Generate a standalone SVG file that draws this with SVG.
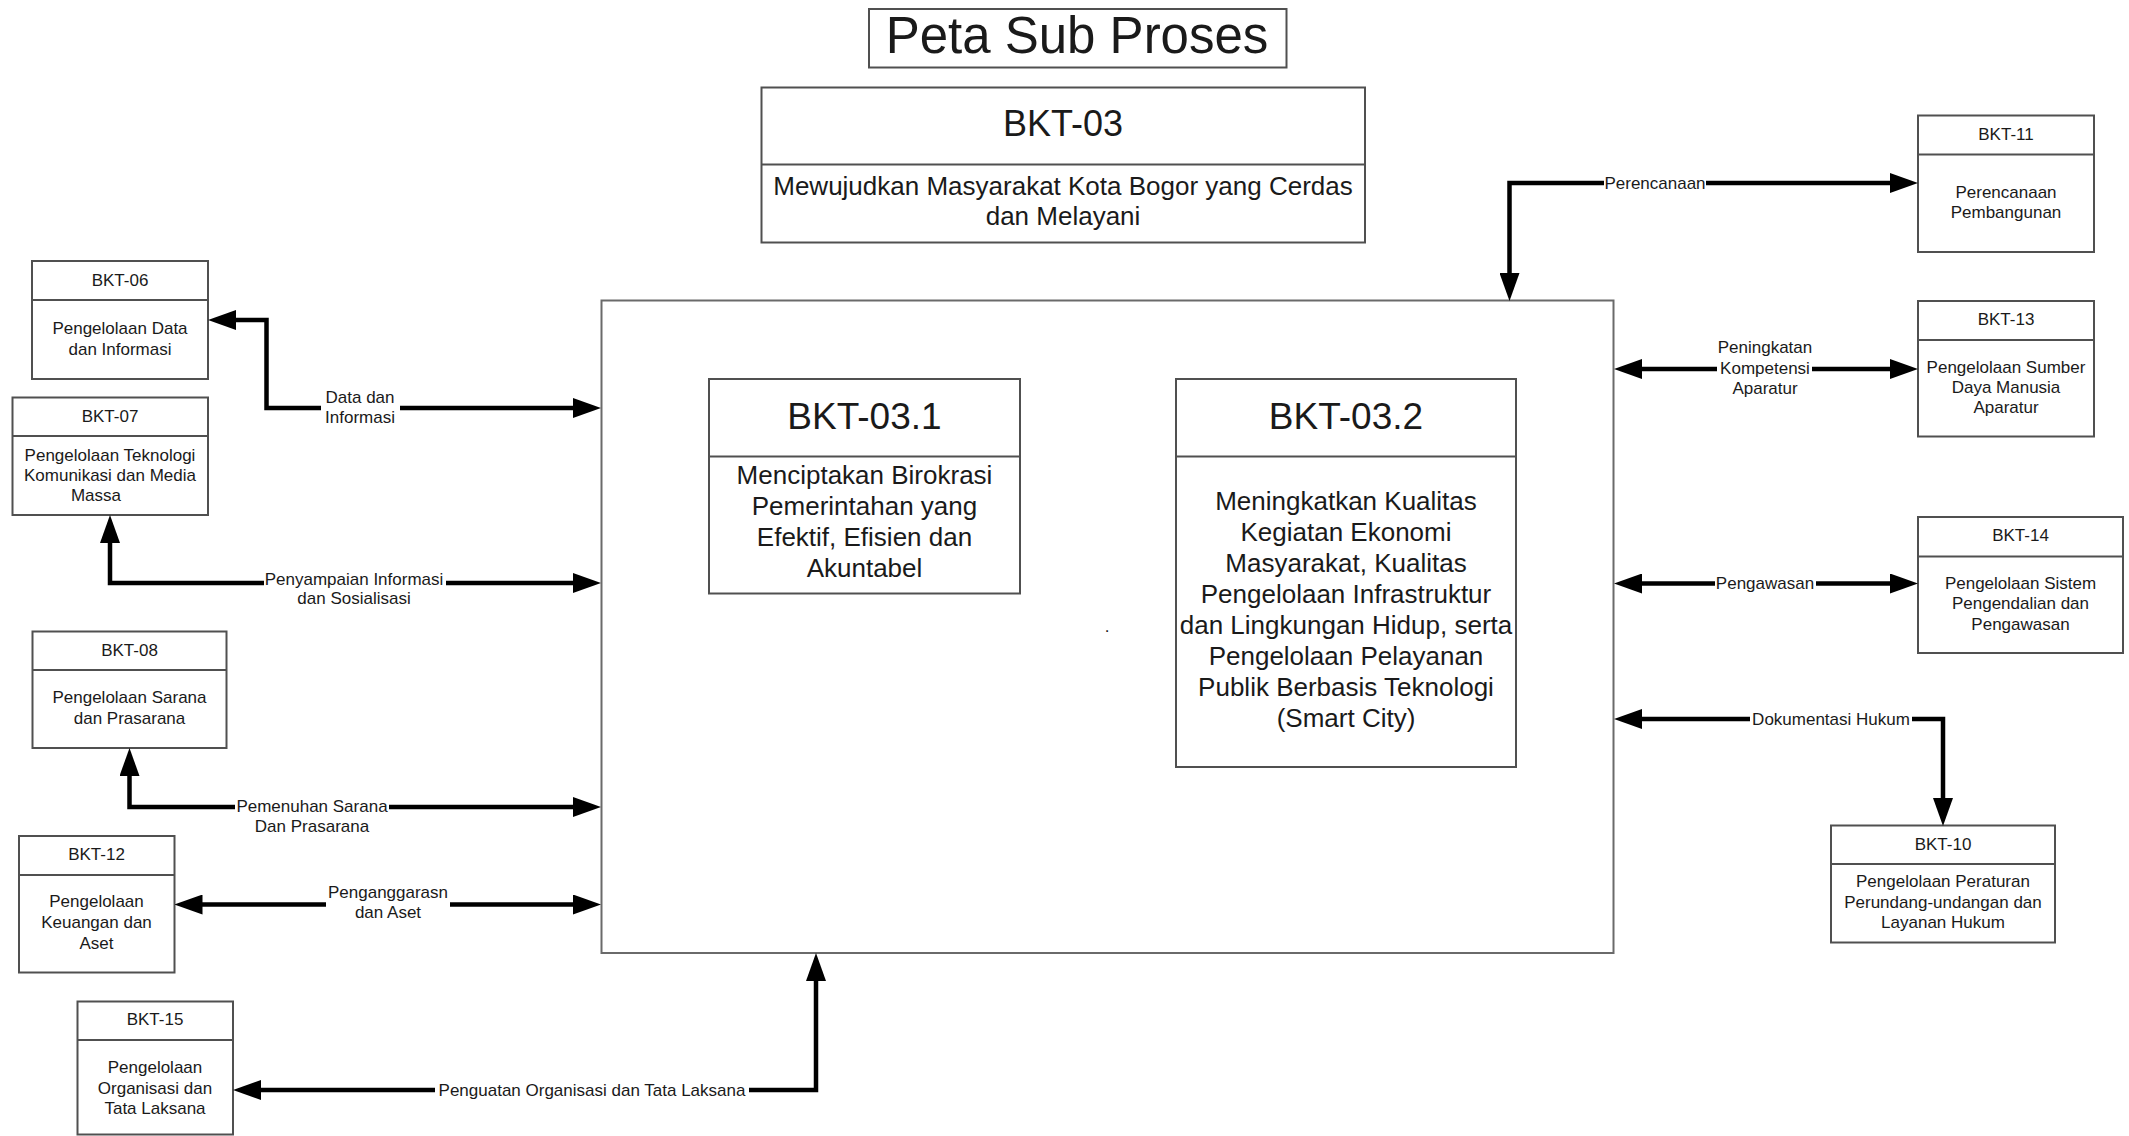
<svg xmlns="http://www.w3.org/2000/svg" width="2129" height="1136" viewBox="0 0 2129 1136">
  <style>
    text { font-family: "Liberation Sans", Arial, sans-serif; fill: #1a1a1a; text-anchor: middle; }
    .box { fill: #ffffff; stroke: #505050; stroke-width: 2; }
    .div { stroke: #505050; stroke-width: 2; }
    .main { fill: none; stroke: #6a6a6a; stroke-width: 2; }
    .sm { font-size: 17px; }
    .lbl { font-size: 17px; }
    .mid { font-size: 26px; }
    .hd { font-size: 37px; }
    .conn { fill: none; stroke: #000000; stroke-width: 4.5; stroke-linejoin: miter; marker-end: url(#arrow); }
    .both { marker-start: url(#arrow); }
    .gap { fill: #ffffff; }
  </style>
  <defs>
    <marker id="arrow" markerUnits="userSpaceOnUse" markerWidth="28" markerHeight="20" refX="18" refY="10" orient="auto-start-reverse" viewBox="0 0 28 20">
      <path d="M0,0 L28,10 L0,20 z" fill="#000000"/>
    </marker>
  </defs>
  <rect width="2129" height="1136" fill="#ffffff"/>

  <!-- title -->
  <g id="title">
    <rect x="869" y="9" width="417.5" height="58.5" class="box"/>
    <text x="1077" y="53" style="font-size:51px">Peta Sub Proses</text>
  </g>

  <!-- top level process -->
  <g id="bkt-03">
    <rect x="761.5" y="87.5" width="603.5" height="155" class="box"/>
    <line x1="761.5" y1="164.5" x2="1365" y2="164.5" class="div"/>
    <text x="1063" y="136" style="font-size:36px">BKT-03</text>
    <text x="1063" y="195" class="mid">Mewujudkan Masyarakat Kota Bogor yang Cerdas</text>
    <text x="1063" y="225" class="mid">dan Melayani</text>
  </g>

  <!-- container of the two sub processes -->
  <g id="main">
    <rect x="601.5" y="300.5" width="1012" height="652.5" class="main"/>
    <text x="1107" y="632" style="font-size:17px">.</text>
  </g>

  <g id="bkt-03-1">
    <rect x="709" y="379" width="311" height="214.5" class="box"/>
    <line x1="709" y1="456.5" x2="1020" y2="456.5" class="div"/>
    <text x="864.5" y="429" class="hd">BKT-03.1</text>
    <text x="864.5" y="484" class="mid">Menciptakan Birokrasi</text>
    <text x="864.5" y="515" class="mid">Pemerintahan yang</text>
    <text x="864.5" y="546" class="mid">Efektif, Efisien dan</text>
    <text x="864.5" y="577" class="mid">Akuntabel</text>
  </g>

  <g id="bkt-03-2">
    <rect x="1176" y="379" width="340" height="388" class="box"/>
    <line x1="1176" y1="456.5" x2="1516" y2="456.5" class="div"/>
    <text x="1346" y="429" class="hd">BKT-03.2</text>
    <text x="1346" y="510" class="mid">Meningkatkan Kualitas</text>
    <text x="1346" y="541" class="mid">Kegiatan Ekonomi</text>
    <text x="1346" y="572" class="mid">Masyarakat, Kualitas</text>
    <text x="1346" y="603" class="mid">Pengelolaan Infrastruktur</text>
    <text x="1346" y="634" class="mid">dan Lingkungan Hidup, serta</text>
    <text x="1346" y="665" class="mid">Pengelolaan Pelayanan</text>
    <text x="1346" y="696" class="mid">Publik Berbasis Teknologi</text>
    <text x="1346" y="727" class="mid">(Smart City)</text>
  </g>

  <!-- left side units -->
  <g id="bkt-06">
    <rect x="32" y="261" width="176" height="118" class="box"/>
    <line x1="32" y1="300" x2="208" y2="300" class="div"/>
    <text x="120" y="286" class="sm">BKT-06</text>
    <text x="120" y="334" class="sm">Pengelolaan Data</text>
    <text x="120" y="355" class="sm">dan Informasi</text>
  </g>

  <g id="bkt-07">
    <rect x="12.5" y="397.5" width="195.5" height="117.5" class="box"/>
    <line x1="12.5" y1="436" x2="208" y2="436" class="div"/>
    <text x="110" y="422" class="sm">BKT-07</text>
    <text x="110" y="461" class="sm">Pengelolaan Teknologi</text>
    <text x="110" y="481" class="sm">Komunikasi dan Media</text>
    <text x="96" y="501" class="sm">Massa</text>
  </g>

  <g id="bkt-08">
    <rect x="32.5" y="631.5" width="194" height="116.5" class="box"/>
    <line x1="32.5" y1="670" x2="226.5" y2="670" class="div"/>
    <text x="129.5" y="656" class="sm">BKT-08</text>
    <text x="129.5" y="703" class="sm">Pengelolaan Sarana</text>
    <text x="129.5" y="724" class="sm">dan Prasarana</text>
  </g>

  <g id="bkt-12">
    <rect x="19" y="836" width="155.5" height="136.5" class="box"/>
    <line x1="19" y1="875" x2="174.5" y2="875" class="div"/>
    <text x="96.5" y="860" class="sm">BKT-12</text>
    <text x="96.5" y="907" class="sm">Pengelolaan</text>
    <text x="96.5" y="928" class="sm">Keuangan dan</text>
    <text x="96.5" y="949" class="sm">Aset</text>
  </g>

  <g id="bkt-15">
    <rect x="77.5" y="1001.5" width="155.5" height="133" class="box"/>
    <line x1="77.5" y1="1040" x2="233" y2="1040" class="div"/>
    <text x="155" y="1025" class="sm">BKT-15</text>
    <text x="155" y="1073" class="sm">Pengelolaan</text>
    <text x="155" y="1094" class="sm">Organisasi dan</text>
    <text x="155" y="1114" class="sm">Tata Laksana</text>
  </g>

  <!-- right side units -->
  <g id="bkt-11">
    <rect x="1918" y="115.5" width="176" height="136.5" class="box"/>
    <line x1="1918" y1="154.5" x2="2094" y2="154.5" class="div"/>
    <text x="2006" y="140" class="sm">BKT-11</text>
    <text x="2006" y="198" class="sm">Perencanaan</text>
    <text x="2006" y="218" class="sm">Pembangunan</text>
  </g>

  <g id="bkt-13">
    <rect x="1918" y="301" width="176" height="135.5" class="box"/>
    <line x1="1918" y1="340" x2="2094" y2="340" class="div"/>
    <text x="2006" y="325" class="sm">BKT-13</text>
    <text x="2006" y="373" class="sm">Pengelolaan Sumber</text>
    <text x="2006" y="393" class="sm">Daya Manusia</text>
    <text x="2006" y="413" class="sm">Aparatur</text>
  </g>

  <g id="bkt-14">
    <rect x="1918" y="517" width="205" height="136" class="box"/>
    <line x1="1918" y1="556.5" x2="2123" y2="556.5" class="div"/>
    <text x="2020.5" y="541" class="sm">BKT-14</text>
    <text x="2020.5" y="589" class="sm">Pengelolaan Sistem</text>
    <text x="2020.5" y="609" class="sm">Pengendalian dan</text>
    <text x="2020.5" y="630" class="sm">Pengawasan</text>
  </g>

  <g id="bkt-10">
    <rect x="1831" y="825.5" width="224" height="117" class="box"/>
    <line x1="1831" y1="864" x2="2055" y2="864" class="div"/>
    <text x="1943" y="850" class="sm">BKT-10</text>
    <text x="1943" y="887" class="sm">Pengelolaan Peraturan</text>
    <text x="1943" y="908" class="sm">Perundang-undangan dan</text>
    <text x="1943" y="928" class="sm">Layanan Hukum</text>
  </g>

  <!-- information flows -->
  <g id="connectors">
    <path class="conn both" d="M218,320 H266.5 V408 H591"/>
    <path class="conn both" d="M110,525 V583 H591"/>
    <path class="conn both" d="M129.5,758 V807 H591"/>
    <path class="conn both" d="M184.5,904.5 H591"/>
    <path class="conn both" d="M243,1090 H816 V963"/>
    <path class="conn both" d="M1509.5,291 V183 H1908"/>
    <path class="conn both" d="M1624,369 H1908"/>
    <path class="conn both" d="M1624,583.5 H1908"/>
    <path class="conn both" d="M1624,719 H1943 V816"/>

    <g id="labels">
      <rect class="gap" x="321" y="389" width="79" height="38"/>
      <text class="lbl" x="360" y="403">Data dan</text>
      <text class="lbl" x="360" y="423">Informasi</text>

      <rect class="gap" x="264" y="570" width="182" height="38"/>
      <text class="lbl" x="354" y="585">Penyampaian Informasi</text>
      <text class="lbl" x="354" y="604">dan Sosialisasi</text>

      <rect class="gap" x="235" y="795" width="154" height="40"/>
      <text class="lbl" x="312" y="812">Pemenuhan Sarana</text>
      <text class="lbl" x="312" y="832">Dan Prasarana</text>

      <rect class="gap" x="326" y="881" width="124" height="41"/>
      <text class="lbl" x="388" y="898">Penganggarasn</text>
      <text class="lbl" x="388" y="918">dan Aset</text>

      <rect class="gap" x="435" y="1080" width="314" height="20"/>
      <text class="lbl" x="592" y="1096">Penguatan Organisasi dan Tata Laksana</text>

      <rect class="gap" x="1604" y="173" width="102" height="20"/>
      <text class="lbl" x="1655" y="189">Perencanaan</text>

      <rect class="gap" x="1717" y="336" width="95" height="62"/>
      <text class="lbl" x="1765" y="353">Peningkatan</text>
      <text class="lbl" x="1765" y="374">Kompetensi</text>
      <text class="lbl" x="1765" y="394">Aparatur</text>

      <rect class="gap" x="1715" y="574" width="101" height="20"/>
      <text class="lbl" x="1765" y="589">Pengawasan</text>

      <rect class="gap" x="1750" y="709" width="162" height="20"/>
      <text class="lbl" x="1831" y="725">Dokumentasi Hukum</text>
    </g>
  </g>
</svg>
